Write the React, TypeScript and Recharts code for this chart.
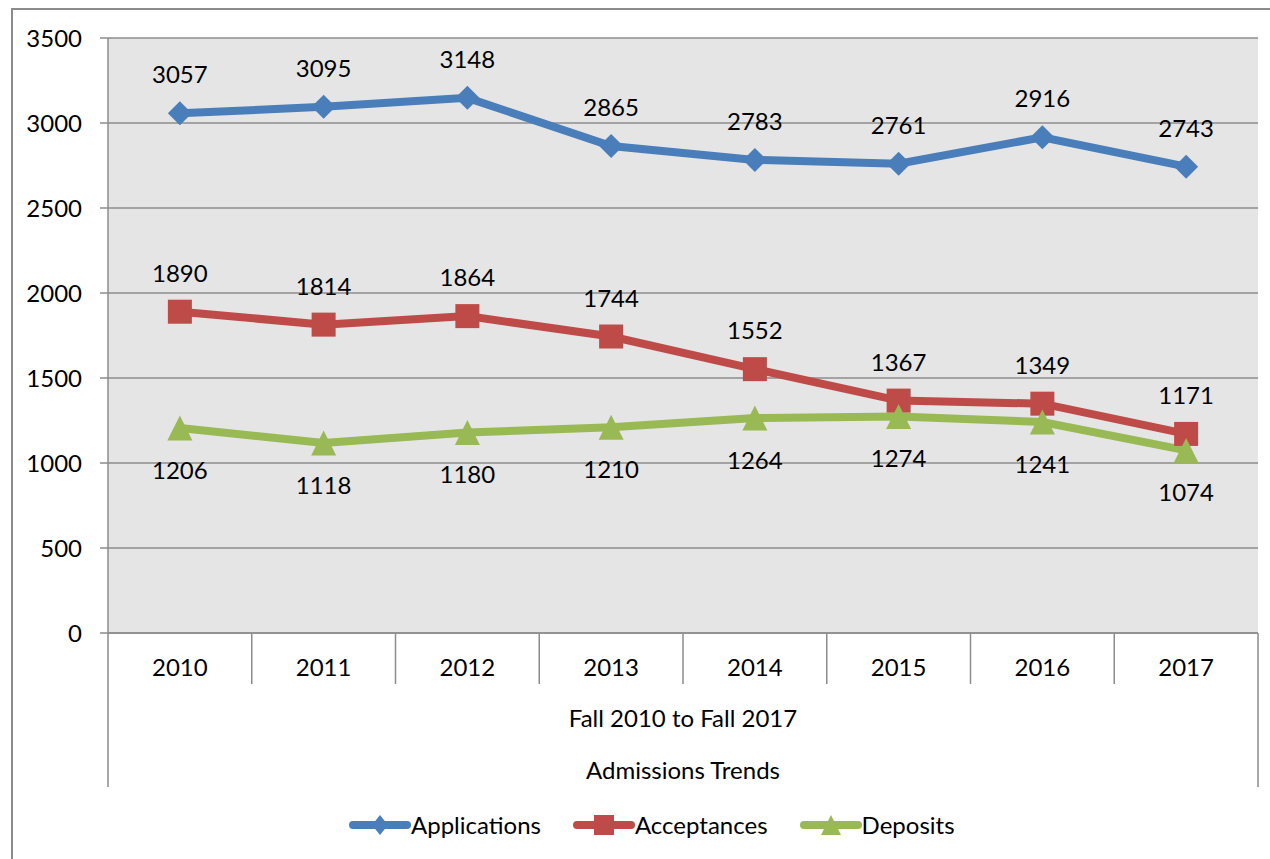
import React from 'react';
import { LineChart, Line, XAxis, YAxis, CartesianGrid, LabelList, Legend, Label } from 'recharts';

const years = ['2010', '2011', '2012', '2013', '2014', '2015', '2016', '2017'];
const applications = [3057, 3095, 3148, 2865, 2783, 2761, 2916, 2743];
const acceptances = [1890, 1814, 1864, 1744, 1552, 1367, 1349, 1171];
const deposits = [1206, 1118, 1180, 1210, 1264, 1274, 1241, 1074];
const yTicks = [0, 500, 1000, 1500, 2000, 2500, 3000, 3500];
const axisTitleTop = 'Fall 2010 to Fall 2017';
const axisTitleBottom = 'Admissions Trends';

const BLUE = '#4A7EBB';
const RED = '#BE4B48';
const GREEN = '#98B954';
const GRID = '#8C8C8C';
const FONT = 'Lato, "Open Sans", sans-serif';

const data = years.map((year, i) => ({
  year,
  Applications: applications[i],
  Acceptances: acceptances[i],
  Deposits: deposits[i],
}));

const Diamond = (props: any) => {
  const { cx, cy, index } = props;
  if (cx == null || cy == null) return null;
  const s = 12;
  return (
    <polygon
      key={`d-${index}`}
      points={`${cx},${cy - s} ${cx + s},${cy} ${cx},${cy + s} ${cx - s},${cy}`}
      fill={BLUE}
    />
  );
};

const Square = (props: any) => {
  const { cx, cy, index } = props;
  if (cx == null || cy == null) return null;
  const s = 12;
  return <rect key={`s-${index}`} x={cx - s} y={cy - s} width={s * 2} height={s * 2} fill={RED} />;
};

const Triangle = (props: any) => {
  const { cx, cy, index } = props;
  if (cx == null || cy == null) return null;
  const s = 12.5;
  return (
    <polygon
      key={`t-${index}`}
      points={`${cx},${cy - s} ${cx + s},${cy + s} ${cx - s},${cy + s}`}
      fill={GREEN}
    />
  );
};

const XTick = (props: any) => {
  const { x, y, payload, index } = props;
  const half = payload.offset || 0;
  const left = x - half;
  const right = x + half;
  const last = index === years.length - 1;
  return (
    <g>
      <line x1={left} y1={y} x2={left} y2={index === 0 ? y + 154 : y + 51} stroke={GRID} strokeWidth={1.5} />
      {last && <line x1={right} y1={y} x2={right} y2={y + 154} stroke={GRID} strokeWidth={1.5} />}
      <text
        x={x}
        y={y + 33}
        textAnchor="middle"
        dominantBaseline="central"
        fontFamily={FONT}
        fontSize={24}
        fill="#000"
      >
        {payload.value}
      </text>
    </g>
  );
};

const AxisTitles = (props: any) => {
  const vb = props.viewBox || {};
  const cx = vb.x + vb.width / 2;
  return (
    <g>
      <text x={cx} y={vb.y + 84} textAnchor="middle" dominantBaseline="central" fontFamily={FONT} fontSize={24} fill="#000">
        {axisTitleTop}
      </text>
      <text x={cx} y={vb.y + 136} textAnchor="middle" dominantBaseline="central" fontFamily={FONT} fontSize={24} fill="#000">
        {axisTitleBottom}
      </text>
    </g>
  );
};

const legendItems = [
  { name: 'Applications', color: BLUE, shape: 'diamond' },
  { name: 'Acceptances', color: RED, shape: 'square' },
  { name: 'Deposits', color: GREEN, shape: 'triangle' },
];

const LegendIcon = ({ color, shape }: { color: string; shape: string }) => (
  <svg width={62} height={26} style={{ display: 'block' }}>
    <line x1={4} y1={13} x2={58} y2={13} stroke={color} strokeWidth={8} strokeLinecap="round" />
    {shape === 'diamond' && <polygon points="31,3 39,13 31,23 23,13" fill={color} />}
    {shape === 'square' && <rect x={21} y={3} width={20} height={20} fill={color} />}
    {shape === 'triangle' && <polygon points="31,3 41,23 21,23" fill={color} />}
  </svg>
);

const LegendContent = () => (
  <div style={{ display: 'flex', alignItems: 'center', gap: 32, fontFamily: FONT, fontSize: 24, color: '#000' }}>
    {legendItems.map((it) => (
      <div key={it.name} style={{ display: 'flex', alignItems: 'center' }}>
        <LegendIcon color={it.color} shape={it.shape} />
        <span style={{ lineHeight: '26px' }}>{it.name}</span>
      </div>
    ))}
  </div>
);

export default function App() {
  return (
    <div
      style={{
        position: 'fixed',
        left: 0,
        top: 0,
        width: 1270,
        height: 859,
        overflow: 'hidden',
        background: '#fff',
      }}
    >
      <div
        style={{
          position: 'absolute',
          left: 11,
          top: 8,
          width: 1320,
          height: 900,
          border: `2px solid ${GRID}`,
        }}
      />
      <div style={{ position: 'absolute', left: 0, top: 0 }}>
        <LineChart width={1270} height={859} data={data} margin={{ top: 38, right: 12, bottom: 0, left: 0 }}>
          <CartesianGrid vertical={false} stroke={GRID} strokeWidth={1.5} fill="#E5E5E5" fillOpacity={1} />
          <XAxis
            dataKey="year"
            scale="band"
            height={226}
            tickSize={0}
            tickMargin={0}
            tickLine={false}
            axisLine={{ stroke: GRID, strokeWidth: 1.5 }}
            tick={<XTick />}
            interval={0}
          >
            <Label content={<AxisTitles />} />
          </XAxis>
          <YAxis
            width={108}
            domain={[0, 3500]}
            ticks={yTicks}
            interval={0}
            tickSize={8}
            tickMargin={18}
            tickLine={{ stroke: GRID, strokeWidth: 1.5 }}
            axisLine={{ stroke: GRID, strokeWidth: 1.5 }}
            tick={{ fill: '#000', fontSize: 24, fontFamily: FONT }}
          />
          <Legend
            layout="horizontal"
            verticalAlign="middle"
            align="center"
            content={<LegendContent />}
            wrapperStyle={{ top: 812, left: 349, width: 700, bottom: 'auto', right: 'auto' }}
          />
          <Line
            type="linear"
            dataKey="Applications"
            stroke={BLUE}
            strokeWidth={8}
            dot={Diamond}
            activeDot={false}
            isAnimationActive={false}
          >
            <LabelList dataKey="Applications" position="top" offset={30} fill="#000" fontSize={24} fontFamily={FONT} />
          </Line>
          <Line
            type="linear"
            dataKey="Acceptances"
            stroke={RED}
            strokeWidth={8}
            dot={Square}
            activeDot={false}
            isAnimationActive={false}
          >
            <LabelList dataKey="Acceptances" position="top" offset={30} fill="#000" fontSize={24} fontFamily={FONT} />
          </Line>
          <Line
            type="linear"
            dataKey="Deposits"
            stroke={GREEN}
            strokeWidth={8}
            dot={Triangle}
            activeDot={false}
            isAnimationActive={false}
          >
            <LabelList dataKey="Deposits" position="bottom" offset={34} fill="#000" fontSize={24} fontFamily={FONT} />
          </Line>
        </LineChart>
      </div>
    </div>
  );
}
